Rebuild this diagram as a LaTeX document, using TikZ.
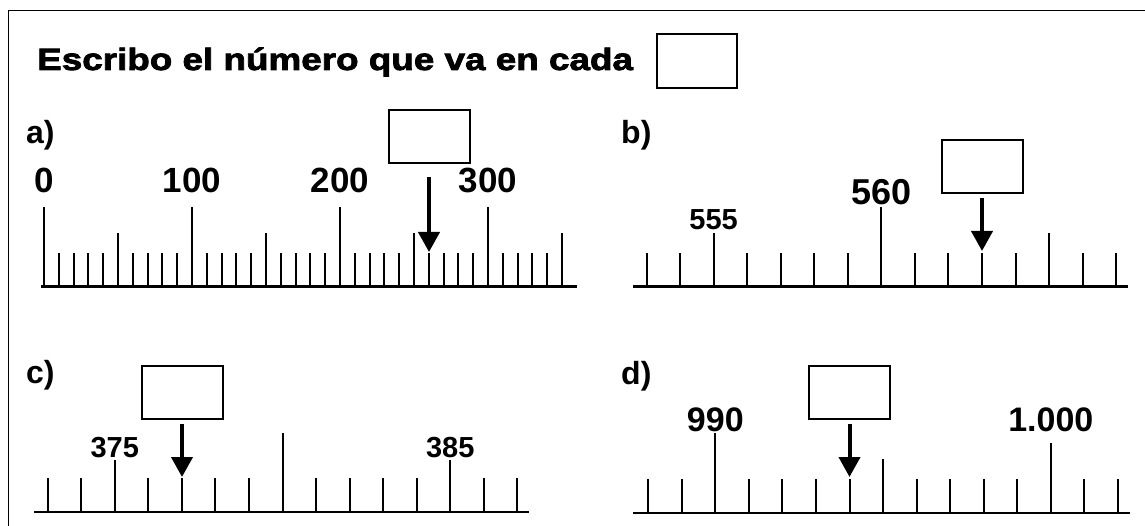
\documentclass[tikz,border=0pt]{standalone}
\usepackage{fontspec}
\setmainfont{Liberation Sans}
\newfontfamily\titlefont{Liberation Sans Bold}[FakeBold=2.5,FakeStretch=1.2]
\usetikzlibrary{arrows.meta}
\newcommand{\numsize}[1]{\fontsize{#1}{#1}\selectfont\bfseries}

\begin{document}
\begin{tikzpicture}[
    x=1pt, y=-1pt,
    frame/.style={line width=1.6pt},
    axis/.style={line width=2.4pt},
    tick/.style={line width=2pt},
    answer/.style={draw, line width=2pt, minimum width=81pt, minimum height=53pt, inner sep=0pt},
    pointer/.style={-{Triangle[width=21pt,length=20pt]}, line width=4pt},
    part/.style={anchor=base west, inner sep=0pt, font=\numsize{32}},
    num/.style={anchor=base, inner sep=0pt, font=\numsize{34}},
    numsmall/.style={num, font=\numsize{29}}
]
    \useasboundingbox (0,0) rectangle (1145,526);
    \draw[frame] (8.5,526) |- (1145,10.5);

    % Title
    \node[anchor=base west, inner sep=0pt, font=\titlefont\fontsize{30.7}{32}\selectfont] (title) at (37,70) {Escribo el número que va en cada};
    \node[answer, minimum width=80pt, minimum height=54pt] (titlebox) at (697,61) {};

    % --- a) ---
    \node[part] (parta) at (26,144) {a)};
    \draw[axis] (41,286.5) -- (577,286.5);
    \foreach \i in {0,...,35} {
        \pgfmathsetmacro\tx{44+14.8*\i}
        \pgfmathsetmacro\ty{mod(\i,10)==0 ? 207 : (mod(\i,5)==0 ? 233 : 253)}
        \draw[tick] (\tx,286.5) -- (\tx,\ty);
    }
    \foreach \v/\x in {0/44,100/192,200/340,300/488}
        \node[num, font=\numsize{35}] (a\v) at (\x,193) {\v};
    \node[answer] (boxa) at (429,136.5) {};
    \coordinate (tipa) at (429,252);
    \draw[pointer, shorten <=13pt] (boxa) -- (tipa);

    % --- b) ---
    \node[part] (partb) at (621,144) {b)};
    \draw[axis] (633,286.5) -- (1128,286.5);
    \foreach \i in {0,...,14} {
        \pgfmathsetmacro\tx{646.5+33.55*\i}
        \pgfmathsetmacro\ty{\i==7 ? 207 : ((\i==2 || \i==12) ? 233 : 253)}
        \draw[tick] (\tx,286.5) -- (\tx,\ty);
    }
    \node[numsmall] (b555) at (713.6,230) {555};
    \node[num, font=\numsize{36}] (b560) at (881.4,205) {560};
    \node[answer] (boxb) at (982,166.5) {};
    \coordinate (tipb) at (982,251);
    \draw[pointer, shorten <=4pt] (boxb) -- (tipb);

    % --- c) ---
    \node[part] (partc) at (26,383) {c)};
    \draw[axis] (34,512) -- (529,512);
    \foreach \i in {0,...,14} {
        \pgfmathsetmacro\tx{47.7+33.55*\i}
        \pgfmathsetmacro\ty{\i==7 ? 433 : ((\i==2 || \i==12) ? 460 : 478)}
        \draw[tick] (\tx,512) -- (\tx,\ty);
    }
    \node[numsmall] (c375) at (114.8,457) {375};
    \node[numsmall] (c385) at (450.3,457) {385};
    \node[answer] (boxc) at (182,392.5) {};
    \coordinate (tipc) at (182,477);
    \draw[pointer, shorten <=4pt] (boxc) -- (tipc);

    % --- d) ---
    \node[part] (partd) at (621,384) {d)};
    \draw[axis] (633,513) -- (1130,513);
    \foreach \i in {0,...,14} {
        \pgfmathsetmacro\tx{648.2+33.55*\i}
        \pgfmathsetmacro\ty{\i==2 ? 433 : (\i==12 ? 443 : (\i==7 ? 459 : 479))}
        \draw[tick] (\tx,513) -- (\tx,\ty);
    }
    \node[num] (d990) at (715.3,431) {990};
    \node[num] (d1000) at (1050.8,431) {1.000};
    \node[answer] (boxd) at (849.5,392.5) {};
    \coordinate (tipd) at (849.5,477);
    \draw[pointer, shorten <=4pt] (boxd) -- (tipd);

\end{tikzpicture}
\end{document}
